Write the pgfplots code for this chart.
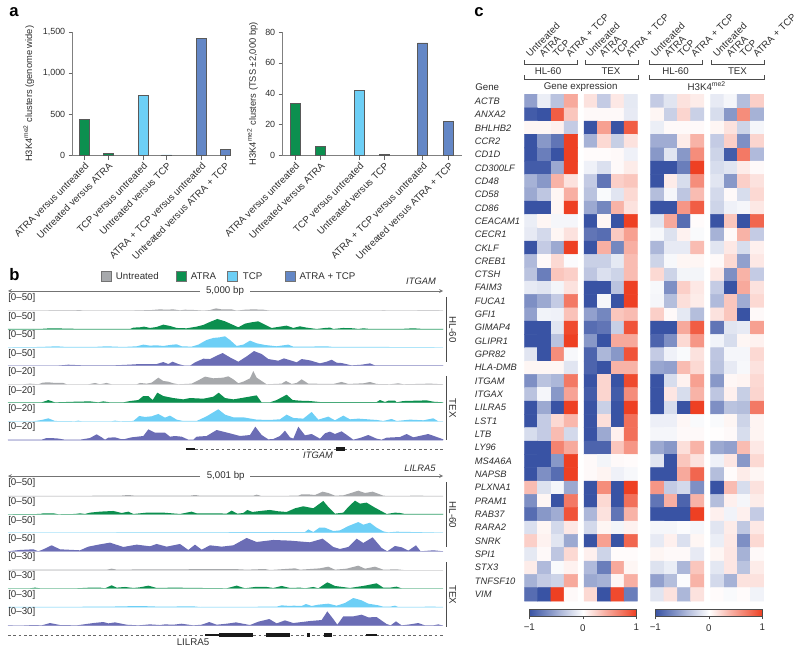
\documentclass[border=0pt]{standalone}
\usepackage{fontspec}
\setmainfont{Liberation Sans}
\usepackage{pgfplots}
\pgfplotsset{compat=1.18}
\definecolor{cgray}{RGB}{167,169,172}
\definecolor{cgreen}{RGB}{12,143,79}
\definecolor{clight}{RGB}{109,207,246}
\definecolor{cblue}{RGB}{100,135,198}
\definecolor{cpurple}{RGB}{107,109,181}
\definecolor{txt}{gray}{0.18}
\pgfplotsset{
  colormap={bwr}{rgb255=(57,83,164) rgb255=(255,255,255) rgb255=(238,64,35)},
  barax/.style={
    scale only axis,anchor=south west,height=123.7*0.75pt,
    axis x line*=bottom,axis y line*=left,
    axis line style={draw=black!50,line width=0.7pt,-},
    tick style={draw=black!60,line width=0.5pt},tick align=outside,
    major tick length=3pt,ymin=0,
    xticklabels={ATRA versus untreated,Untreated versus ATRA,TCP versus untreated,Untreated versus TCP,ATRA + TCP versus untreated,Untreated versus ATRA + TCP},
    xticklabel style={rotate=45,anchor=north east,inner sep=1pt,text=txt},
    yticklabel style={text=txt,font=\fontsize{6.7}{8}\selectfont},
    /pgf/number format/assume math mode=true,
    /pgf/number format/1000 sep={,},
    scaled y ticks=false,
    label style={text=txt,font=\fontsize{7}{8}\selectfont},
  },
  bar/.style={ybar,bar shift=0pt,bar width=7.5pt,fill=#1,draw=black!65,line width=0.4pt},
}
% one genome browser track: baseline y (px), colour, coordinates
\newcommand{\track}[3]{
\begin{axis}[at={(8*0.75pt,-#1*0.75pt)},anchor=south west,scale only axis,hide axis,clip=false,
  width=435.3*0.75pt,height=20*0.75pt,xmin=24,xmax=1330,ymin=0,ymax=60]
\addplot[draw=#2!30,line width=0.4pt] coordinates {(24,0)(1330,0)};
\addplot[fill=#2,draw=none] coordinates {#3} \closedcycle;
\end{axis}}
% one block of the heat map: x offset in cells, values row by row
\newcommand{\heat}[2]{
\addplot[matrix plot*,mesh/cols=4,point meta=explicit] table[row sep=crcr,header=false,
  x expr={#1+mod(\coordindex,4)+0.5},y expr={floor((\coordindex+0.5)/4)+0.5},meta index=0] {#2};}
% colour scale
\newcommand{\scalebar}[1]{
\begin{axis}[at={(#1*0.75pt,-616.7*0.75pt)},anchor=south west,scale only axis,width=107*0.75pt,height=7.7*0.75pt,
  xmin=-1,xmax=1,ymin=0,ymax=1,view={0}{90},axis on top,ytick=\empty,
  xtick={-1,0,1},xticklabels={−1,0,1},xtick pos=bottom,tick align=outside,major tick length=2pt,
  axis line style={draw=black!70,line width=0.5pt},tick style={draw=black!70},
  colormap name=bwr,point meta min=-1,point meta max=1,
  xticklabel style={text=txt,yshift=-1pt}]
\addplot[surf,shader=interp,mesh/cols=11,point meta=x] coordinates {
(-1,0)(-0.8,0)(-0.6,0)(-0.4,0)(-0.2,0)(0,0)(0.2,0)(0.4,0)(0.6,0)(0.8,0)(1,0)
(-1,1)(-0.8,1)(-0.6,1)(-0.4,1)(-0.2,1)(0,1)(0.2,1)(0.4,1)(0.6,1)(0.8,1)(1,1)};
\end{axis}}
\AtBeginDocument{\fontsize{7.3}{9}\selectfont}
\begin{document}
\begin{tikzpicture}[txtn/.style={text=txt,inner sep=0pt},ln/.style={draw=black!70,line width=0.45pt}]
\path[use as bounding box] (0,0) rectangle (600pt,-489pt);

% panel a
\begin{axis}[barax,at={(72.7*0.75pt,-155.7*0.75pt)},width=158.3*0.75pt,xmin=72.7,xmax=231,ymax=1500,
  xtick={84.3,108,143,166.7,201.3,225},
  ytick={0,500,1000,1500},
  ylabel={H3K4\textsuperscript{me2} clusters (genome wide)},
  ylabel style={at={(axis description cs:-0.278,0.5)},anchor=center}]
\addplot[bar=cgreen] coordinates {(84.3,445)(108,30)};
\addplot[bar=clight] coordinates {(143,735)(166.7,10)};
\addplot[bar=cblue] coordinates {(201.3,1425)(225,80)};
\end{axis}
\begin{axis}[barax,at={(282.7*0.75pt,-155.7*0.75pt)},width=179*0.75pt,xmin=282.7,xmax=461.7,ymax=80,
  xtick={295,320.3,359.3,384.3,422.7,448.7},
  ytick={0,20,40,60,80},
  ylabel={H3K4\textsuperscript{me2} clusters (TSS ±2,000 bp)},
  ylabel style={at={(axis description cs:-0.168,0.5)},anchor=center}]
\addplot[bar=cgreen] coordinates {(295,34)(320.3,6)};
\addplot[bar=clight] coordinates {(359.3,42)(384.3,1)};
\addplot[bar=cblue] coordinates {(422.7,73)(448.7,22)};
\end{axis}

% panel b, ITGAM
\track{310.7}{cgray}{(24,0)(140,0)(150,1)(225,1)(238,2)(250,0)(380,0)(420,1)(455,2)(480,4)(500,3)(520,4)(540,1)(555,3)(585,2)(610,0)(630,2)(648,7)(665,4)(695,4)(710,0)(735,3)(760,4)(790,3)(810,0)(1140,0)(1150,1)(1165,0)(1310,1)(1330,0)}
\track{329.3}{cgreen}{(24,1)(120,1)(150,3)(210,2)(240,1)(390,1)(400,5)(420,6)(432,8)(450,4)(470,7)(490,14)(510,10)(530,4)(560,3)(590,8)(610,13)(625,20)(652,31)(675,24)(695,15)(715,6)(735,17)(755,21)(775,24)(795,14)(815,4)(840,8)(860,11)(880,4)(900,9)(920,5)(950,1)(975,4)(990,5)(1000,1)(1030,4)(1060,3)(1075,1)(1090,3)(1110,1)(1200,1)(1240,3)(1270,1)(1330,1)}
\track{347.3}{clight}{(24,0)(120,1)(170,3)(200,1)(280,1)(320,3)(370,1)(410,3)(430,8)(450,5)(470,6)(490,4)(510,7)(530,9)(545,3)(575,2)(595,8)(620,22)(640,28)(660,30)(675,33)(690,22)(710,4)(730,8)(750,20)(770,12)(795,7)(830,3)(865,8)(880,2)(920,2)(980,3)(1000,1)(1150,1)(1330,0)}
\track{365.7}{cpurple}{(24,0)(170,0)(205,3)(250,1)(340,1)(385,3)(420,5)(470,5)(490,11)(505,5)(518,12)(535,5)(555,0)(570,0)(585,10)(610,21)(630,20)(650,30)(668,38)(690,25)(715,12)(740,28)(762,44)(785,35)(805,20)(835,15)(852,22)(875,15)(890,10)(905,20)(930,16)(960,7)(980,12)(995,18)(1010,9)(1025,8)(1055,1)(1085,3)(1110,7)(1125,1)(1180,1)(1330,1)}
\track{384.3}{cgray}{(24,0)(70,0)(90,2)(115,0)(128,5)(145,6)(165,4)(190,4)(200,0)(265,0)(285,4)(300,0)(320,4)(335,0)(410,0)(420,4)(440,2)(455,5)(475,20)(490,10)(505,8)(520,3)(535,0)(575,2)(595,12)(615,23)(640,18)(670,20)(685,24)(700,15)(715,3)(730,8)(750,18)(760,40)(770,20)(785,10)(800,0)(845,2)(858,10)(875,1)(890,4)(905,15)(925,2)(1000,1)(1025,7)(1045,1)(1090,3)(1110,7)(1130,1)(1170,0)(1195,3)(1210,0)(1290,2)(1330,0)}
\track{402.7}{cgreen}{(24,1)(125,1)(145,8)(165,1)(225,3)(270,4)(295,1)(310,4)(330,1)(370,1)(390,5)(415,8)(430,20)(445,20)(458,8)(472,30)(490,20)(520,14)(550,10)(570,14)(610,12)(640,18)(656,30)(675,14)(700,10)(730,15)(770,22)(785,1)(810,1)(830,8)(860,24)(878,8)(900,6)(930,5)(960,2)(1030,2)(1130,2)(1140,8)(1155,2)(1165,6)(1185,6)(1190,1)(1210,5)(1280,7)(1300,3)(1330,1)}
\track{421.3}{clight}{(24,0)(100,0)(125,4)(145,9)(165,1)(225,0)(235,2)(245,0)(335,0)(345,2)(360,0)(400,1)(418,16)(435,13)(455,15)(475,22)(495,11)(510,17)(530,5)(550,1)(590,1)(620,15)(655,36)(675,20)(700,12)(730,12)(770,5)(810,4)(840,6)(860,20)(880,10)(910,8)(935,28)(955,5)(985,14)(1005,3)(1030,17)(1050,6)(1075,8)(1130,4)(1150,1)(1175,7)(1190,1)(1230,5)(1270,3)(1300,9)(1315,0)(1330,0)}
\track{440}{cpurple}{(24,1)(125,1)(140,6)(170,5)(195,1)(240,1)(270,6)(290,17)(305,8)(315,1)(325,7)(345,8)(362,3)(375,3)(395,8)(430,12)(445,32)(465,22)(495,22)(510,10)(525,12)(545,10)(565,1)(580,1)(590,10)(620,12)(650,30)(690,20)(720,12)(750,15)(766,40)(785,15)(805,2)(820,3)(840,12)(855,28)(870,8)(880,4)(895,40)(915,14)(935,18)(960,4)(975,20)(990,25)(1005,18)(1025,26)(1045,12)(1060,1)(1080,6)(1105,15)(1130,4)(1145,1)(1160,7)(1200,9)(1220,18)(1240,8)(1285,18)(1330,2)}

% panel b, LILRA5
\track{496}{cgray}{(24,0)(360,1)(385,3)(405,1)(570,1)(585,3)(600,1)(760,1)(770,4)(785,0)(895,1)(905,5)(925,5)(945,3)(968,13)(985,9)(1005,1)(1030,2)(1050,8)(1075,16)(1095,9)(1118,13)(1150,1)(1170,0)(1250,1)(1330,0)}
\track{514.3}{cgreen}{(24,0)(120,1)(130,3)(160,3)(175,0)(225,1)(240,3)(255,1)(270,5)(300,8)(340,10)(365,4)(385,8)(400,1)(440,5)(490,5)(540,1)(575,8)(590,3)(650,3)(680,2)(695,11)(712,2)(730,4)(742,13)(757,7)(790,11)(810,13)(835,9)(860,7)(885,18)(910,24)(940,18)(970,40)(985,22)(1005,2)(1030,5)(1045,22)(1065,41)(1080,32)(1100,35)(1125,20)(1160,1)(1185,5)(1200,4)(1215,1)(1330,1)}
\track{532.7}{clight}{(24,0)(560,1)(915,2)(925,10)(940,2)(958,15)(975,15)(1000,5)(1020,7)(1045,20)(1075,32)(1090,24)(1110,30)(1130,15)(1150,4)(1165,1)(1190,3)(1330,0)}
\track{551.3}{cpurple}{(24,0)(60,4)(100,6)(115,0)(130,6)(155,18)(180,6)(240,3)(265,14)(295,20)(330,26)(370,13)(410,20)(450,15)(470,22)(500,14)(540,22)(565,4)(585,20)(605,5)(630,18)(665,14)(700,18)(740,40)(770,28)(820,34)(870,32)(930,27)(968,38)(1000,13)(1020,7)(1045,13)(1070,38)(1090,25)(1118,42)(1145,10)(1162,0)(1185,16)(1205,12)(1225,2)(1248,18)(1262,0)(1300,3)(1330,0)}
\track{570}{cgray}{(24,0)(40,1)(320,1)(335,4)(350,1)(440,2)(520,2)(700,3)(740,1)(795,3)(810,0)(885,5)(900,1)(960,5)(985,10)(1005,1)(1040,4)(1075,13)(1095,4)(1125,10)(1150,1)(1190,2)(1210,0)(1330,0)}
\track{588.3}{cgreen}{(24,0)(90,0)(105,2)(120,0)(230,0)(270,2)(300,2)(315,0)(335,9)(350,2)(375,4)(400,1)(420,3)(445,8)(470,1)(520,2)(680,0)(710,8)(735,0)(765,4)(800,4)(820,1)(845,7)(870,1)(900,2)(915,0)(940,4)(955,0)(982,18)(1005,7)(1050,1)(1095,8)(1130,15)(1150,2)(1170,2)(1190,5)(1205,0)(1330,0)}
\track{607}{clight}{(24,0)(320,1)(420,3)(480,1)(580,2)(600,0)(830,1)(845,5)(870,3)(880,4)(905,3)(918,9)(935,3)(955,7)(985,10)(1010,4)(1035,12)(1060,27)(1085,20)(1105,10)(1135,5)(1150,1)(1170,1)(1185,4)(1195,0)(1300,1)(1330,0)}
\track{625.7}{cpurple}{(24,1)(60,0)(100,2)(125,1)(150,8)(180,2)(230,1)(280,8)(310,11)(325,7)(345,10)(380,3)(415,1)(450,4)(480,2)(495,4)(520,3)(545,6)(580,1)(605,3)(628,11)(650,3)(680,6)(708,10)(750,2)(775,12)(808,20)(830,7)(855,16)(880,8)(930,14)(965,17)(982,43)(1000,20)(1012,3)(1030,28)(1060,28)(1085,33)(1105,25)(1130,26)(1160,5)(1172,1)(1188,13)(1205,1)(1230,4)(1255,8)(1275,1)(1300,1)(1315,4)(1330,0)}

% panel c
\begin{axis}[at={(524.3*0.75pt,-601*0.75pt)},anchor=south west,scale only axis,width=239.5*0.75pt,height=506.5*0.75pt,
  xmin=0,xmax=18,ymin=0,ymax=38,y dir=reverse,axis line style={draw=none},
  colormap name=bwr,point meta min=-1,point meta max=1,
  xtick=\empty,ytick={0.5,1.5,...,37.5},major tick length=0pt,
  yticklabels={ACTB,ANXA2,BHLHB2,CCR2,CD1D,CD300LF,CD48,CD58,CD86,CEACAM1,CECR1,CKLF,CREB1,CTSH,FAIM3,FUCA1,GFI1,GIMAP4,GLIPR1,GPR82,HLA-DMB,ITGAM,ITGAX,LILRA5,LST1,LTB,LY96,MS4A6A,NAPSB,PLXNA1,PRAM1,RAB37,RARA2,SNRK,SPI1,STX3,TNFSF10,VIM},
  yticklabel style={font=\fontsize{7}{8}\selectfont\itshape,anchor=west,text=txt,inner sep=0pt,xshift=-37.2pt}]
\heat{0}{
-0.55\\-0.1\\-0.35\\0.45\\
-0.95\\-1\\0.85\\0.3\\
0.05\\0.05\\0.08\\-0.3\\
-1\\-0.6\\-0.8\\1\\
-1\\-0.75\\-1\\1\\
-0.95\\-0.95\\-0.5\\1\\
-0.45\\-0.6\\0.4\\0.15\\
-0.5\\-0.33\\0.05\\0.42\\
-1\\-1\\0.05\\1\\
-0.1\\0.05\\-0.05\\-0.05\\
-0.12\\-0.22\\0.05\\0.15\\
-1\\-0.3\\-0.5\\1\\
-0.4\\0.03\\0.2\\-0.02\\
-0.35\\-0.75\\0.3\\0.25\\
-0.12\\-0.15\\-0.06\\0.15\\
-0.65\\-0.5\\-0.3\\0.7\\
-0.55\\-0.07\\-0.08\\0.32\\
-1\\-1\\-0.15\\0.95\\
-1\\-1\\-0.35\\1\\
-0.15\\-1\\0.6\\-0.04\\
0.05\\0.05\\0.05\\-0.15\\
-0.65\\-0.35\\-0.42\\0.7\\
-0.35\\-0.05\\-0.6\\0.48\\
-1\\-0.5\\-1\\1\\
-1\\-0.3\\0.2\\0.38\\
-0.2\\-0.3\\0.35\\-0.22\\
-1\\-1\\0.65\\0.45\\
-1\\-1\\-0.6\\1\\
-1\\-0.65\\-0.85\\1\\
0.35\\-0.17\\-0.05\\-0.5\\
-0.65\\0.05\\-1\\0.7\\
-0.85\\-0.6\\-0.48\\0.9\\
-0.18\\0.05\\-0.22\\0.12\\
0.25\\0.07\\-0.15\\-0.5\\
-0.13\\0.03\\-0.33\\0.2\\
0.1\\-0.4\\-0.03\\0.07\\
-0.45\\-0.3\\-0.25\\0.45\\
-0.85\\-1\\1\\0.03\\
}
\heat{4.5}{
0.15\\-0.3\\0.12\\-0.13\\
0.03\\0.03\\0.03\\-0.12\\
-1\\0.5\\-1\\0.85\\
-0.45\\0.2\\-0.28\\0.15\\
0.02\\0.02\\0.03\\-0.08\\
-0.08\\-0.18\\0.03\\0.1\\
-0.3\\-0.8\\0.25\\0.3\\
-0.35\\-0.03\\-0.15\\0.2\\
-0.5\\-0.7\\0.4\\0.15\\
-1\\0.05\\-1\\1\\
-0.8\\-0.85\\0.28\\0.5\\
-1\\0.42\\-0.7\\0.42\\
-0.27\\-0.27\\-0.13\\0.35\\
-0.33\\-0.18\\-0.25\\0.35\\
-1\\-1\\-0.35\\1\\
-1\\-0.05\\-1\\1\\
-0.55\\-0.7\\0.3\\0.35\\
-0.85\\-0.8\\-0.28\\0.9\\
-0.6\\-1\\0.45\\0.45\\
-0.9\\-0.42\\-0.6\\0.9\\
-0.9\\-1\\0.4\\0.4\\
-1\\0.22\\-1\\0.95\\
-0.95\\0.22\\-0.95\\0.6\\
-1\\-0.27\\-1\\1\\
-1\\0.17\\-1\\0.75\\
-1\\-0.5\\0.08\\0.75\\
-0.9\\-0.9\\0.3\\0.55\\
0.03\\-0.06\\0.03\\0.02\\
0.03\\0.06\\-0.08\\-0.04\\
-1\\0.6\\-1\\1\\
-1\\0.2\\-1\\0.75\\
-0.42\\0.15\\-0.8\\0.4\\
-0.22\\0.05\\-0.06\\0.07\\
-1\\0.5\\-1\\0.8\\
0.08\\-0.25\\0.02\\0.02\\
-0.4\\-0.75\\0.45\\0.05\\
-0.5\\-0.45\\0.05\\0.42\\
0.2\\-1\\0.95\\-0.75\\
}
\heat{9.5}{
-0.3\\-0.15\\0.15\\0.1\\
0.05\\-0.27\\0.22\\-0.27\\
-0.1\\0.03\\0.03\\0.03\\
-0.48\\-0.48\\0.1\\0.4\\
-0.6\\-0.15\\-0.6\\0.6\\
-1\\-1\\-0.75\\1\\
-1\\0.1\\-0.2\\0.6\\
-0.38\\-0.05\\-0.33\\0.35\\
-1\\-1\\0.55\\0.85\\
-0.15\\0.45\\-0.85\\0.02\\
-0.04\\-0.17\\0.07\\-0.03\\
-0.42\\-0.12\\-0.12\\0.35\\
-0.25\\-0.04\\0.05\\0.05\\
0.2\\-0.25\\-0.06\\-0.06\\
-0.04\\-0.65\\0.25\\0.12\\
-0.05\\-0.38\\0.17\\0.1\\
0.25\\0.03\\-0.13\\-0.38\\
-1\\-1\\0.45\\0.85\\
-0.9\\-0.65\\0.2\\0.55\\
-0.3\\-0.08\\-0.03\\0.15\\
-0.52\\-0.55\\0.35\\0.2\\
-1\\-0.2\\0.07\\0.5\\
-1\\0.13\\-0.2\\0.4\\
-1\\-0.2\\-1\\1\\
-0.09\\-0.09\\0.04\\-0.03\\
-0.05\\-0.05\\0.03\\0.03\\
-0.5\\-0.6\\0.17\\0.4\\
-0.15\\-1\\0.3\\0.15\\
-1\\-1\\0.45\\0.8\\
0.55\\-0.3\\-0.22\\-0.65\\
-0.8\\0.42\\-0.9\\0.4\\
-1\\-1\\-1\\1\\
-0.05\\-0.05\\-0.02\\-0.05\\
-0.12\\0.08\\-0.18\\0.05\\
0.05\\0.03\\0.03\\-0.12\\
-0.17\\-0.1\\-0.42\\0.3\\
-0.55\\-0.38\\-0.02\\0.4\\
-0.15\\0.15\\-0.42\\0.15\\
}
\heat{14}{
-0.12\\-0.05\\-0.38\\0.25\\
-0.2\\-0.6\\0.6\\-0.45\\
0.05\\0.15\\-0.25\\-0.05\\
-0.3\\0.25\\-0.65\\0.22\\
-0.25\\-0.95\\0.7\\-0.4\\
-0.2\\-0.15\\0.1\\0.03\\
-0.15\\-0.6\\0.25\\0.15\\
-0.22\\0.03\\-0.2\\0.2\\
-0.25\\-0.08\\-0.05\\0.12\\
-1\\0.3\\-1\\0.8\\
-0.45\\0.03\\0.4\\-0.3\\
-0.15\\0.12\\-0.2\\0.08\\
0.03\\0.2\\-0.55\\0.12\\
0.12\\-0.65\\0.4\\-0.3\\
-0.3\\-1\\0.45\\0.15\\
-0.4\\0.3\\-0.48\\0.2\\
0.15\\0.3\\-1\\0.03\\
-0.8\\-0.15\\-0.12\\0.5\\
-0.07\\-0.2\\0.05\\0.07\\
-0.33\\-0.05\\-0.05\\0.2\\
-0.35\\-0.12\\-0.04\\0.15\\
-0.6\\0.04\\0.06\\0.2\\
-0.33\\0.08\\-0.28\\0.22\\
-0.65\\-0.35\\-0.38\\0.7\\
-0.03\\0.05\\-0.25\\0.06\\
0.01\\0.03\\-0.2\\0.06\\
-0.5\\-0.55\\0.35\\0.12\\
-0.08\\0.13\\-0.6\\0.2\\
-0.38\\0.02\\0.1\\0.05\\
-1\\0.35\\-0.2\\0.15\\
-0.38\\0.08\\-0.05\\0.1\\
0.08\\-0.07\\0.08\\-0.3\\
-0.15\\0.1\\-0.32\\0.12\\
-0.1\\0.12\\-0.65\\0.2\\
0.05\\0.13\\-0.45\\0.03\\
-0.14\\0.13\\-0.35\\0.1\\
-0.22\\-0.45\\0.15\\0.15\\
0.02\\-0.03\\0.02\\-0.07\\
}
\end{axis}
\scalebar{529.3}
\scalebar{655.3}

\begin{scope}[x=0.75pt,y=-0.75pt]
% panel letters
\node[anchor=base west,inner sep=0pt,font=\fontsize{12.5}{14}\selectfont\bfseries] at (9,17) {a};
\node[anchor=base west,inner sep=0pt,font=\fontsize{12.5}{14}\selectfont\bfseries] at (9,281) {b};
\node[anchor=base west,inner sep=0pt,font=\fontsize{12.5}{14}\selectfont\bfseries] at (474,17) {c};

% legend of panel b
\foreach \xa/\xb/\c/\t in {101.3/115.7/cgray/Untreated,175.7/190.7/cgreen/ATRA,227.3/242.7/clight/TCP,285/299.3/cblue/ATRA + TCP}{
  \fill[\c,draw=black!55,line width=0.3pt] (\xa,271) rectangle ++(10,10);
  \node[txtn,anchor=west] at (\xb,276) {\t};
}

% headers of the tracks
\node[txtn,font=\fontsize{7}{8}\selectfont\itshape] at (421,281.7) {ITGAM};
\node[txtn] at (225,291) {5,000 bp};
\draw[ln,draw=black!55,line width=0.3pt,->,>=stealth] (200,291) -- (8,291);
\draw[ln,draw=black!55,line width=0.3pt,->,>=stealth] (250,291) -- (443,291);
\node[txtn,font=\fontsize{7}{8}\selectfont\itshape] at (420,468.3) {LILRA5};
\node[txtn] at (225.7,476) {5,001 bp};
\draw[ln,draw=black!55,line width=0.3pt,->,>=stealth] (200,476) -- (8,476);
\draw[ln,draw=black!55,line width=0.3pt,->,>=stealth] (250,476) -- (443,476);

\foreach \y in {297.7,316.7,335,353.7}{\node[txtn,anchor=west] at (8,\y) {[0–50]};}
\foreach \y in {372,390.7,409,427.3}{\node[txtn,anchor=west] at (8,\y) {[0–20]};}
\foreach \y in {482.7,501.7,520.7,539.3}{\node[txtn,anchor=west] at (8,\y) {[0–50]};}
\foreach \y in {557.3,576.3,594.7,612.3}{\node[txtn,anchor=west] at (8,\y) {[0–30]};}

\draw[ln] (446,297) -- (446,361.7);
\draw[ln] (446,376) -- (446,440);
\draw[ln] (446,482) -- (446,547);
\draw[ln] (446,562) -- (446,627);
\node[txtn,rotate=-90] at (452.7,329.3) {HL-60};
\node[txtn,rotate=-90] at (452.7,408.3) {TEX};
\node[txtn,rotate=-90] at (452.7,515) {HL-60};
\node[txtn,rotate=-90] at (452.7,595) {TEX};

% gene models
\draw[black!60,line width=0.3pt,dash pattern=on 2pt off 2pt] (195,449) -- (443,449);
\fill[black!90] (185.5,448) rectangle (195,450);
\fill[black!90] (336,447) rectangle (345,451);
\node[txtn,font=\fontsize{7}{8}\selectfont\itshape] at (318,455.5) {ITGAM};
\draw[black!60,line width=0.3pt,dash pattern=on 2pt off 2pt] (8,634.7) -- (443,634.7);
\fill[black!90] (205,633.7) rectangle (219.3,635.7);
\fill[black!90] (219.3,632.9) rectangle (252.7,636.5);
\fill[black!90] (265.7,632.9) rectangle (290.3,636.5);
\fill[black!90] (306.7,632.9) rectangle (310,636.5);
\fill[black!90] (324,632.9) rectangle (331.7,636.5);
\fill[black!90] (365.7,633.7) rectangle (376.7,635.7);
\node[txtn] at (193,641.7) {LILRA5};

% headers of the heat map
\foreach \c/\t in {531/Untreated,544.3/ATRA,557.6/TCP,571/ATRA + TCP,591/Untreated,604.3/ATRA,617.6/TCP,631/ATRA + TCP,656/Untreated,669.3/ATRA,682.6/TCP,696/ATRA + TCP,718/Untreated,731.3/ATRA,744.6/TCP,758/ATRA + TCP}{
  \node[txtn,rotate=45,anchor=base west] at (\c-1,57.5) {\t};
}
\foreach \a/\b in {524.3/577.7,585.3/638.7,649.3/702.3,711/764}{
  \draw[ln] (\a,60.5) -- (\a,64) -- (\b,64) -- (\b,60.5);
}
\foreach \a/\b in {524.3/638.7,649.3/764}{
  \draw[ln] (\a,75.5) -- (\a,79) -- (\b,79) -- (\b,75.5);
}
\node[txtn] at (548,71.5) {HL-60};
\node[txtn] at (611,71.5) {TEX};
\node[txtn] at (675.5,71.5) {HL-60};
\node[txtn] at (737.5,71.5) {TEX};
\node[txtn,anchor=west] at (475,87.5) {Gene};
\node[txtn] at (580.7,87) {Gene expression};
\node[txtn] at (706.7,86) {H3K4\textsuperscript{me2}};
\end{scope}
\end{tikzpicture}
\end{document}
